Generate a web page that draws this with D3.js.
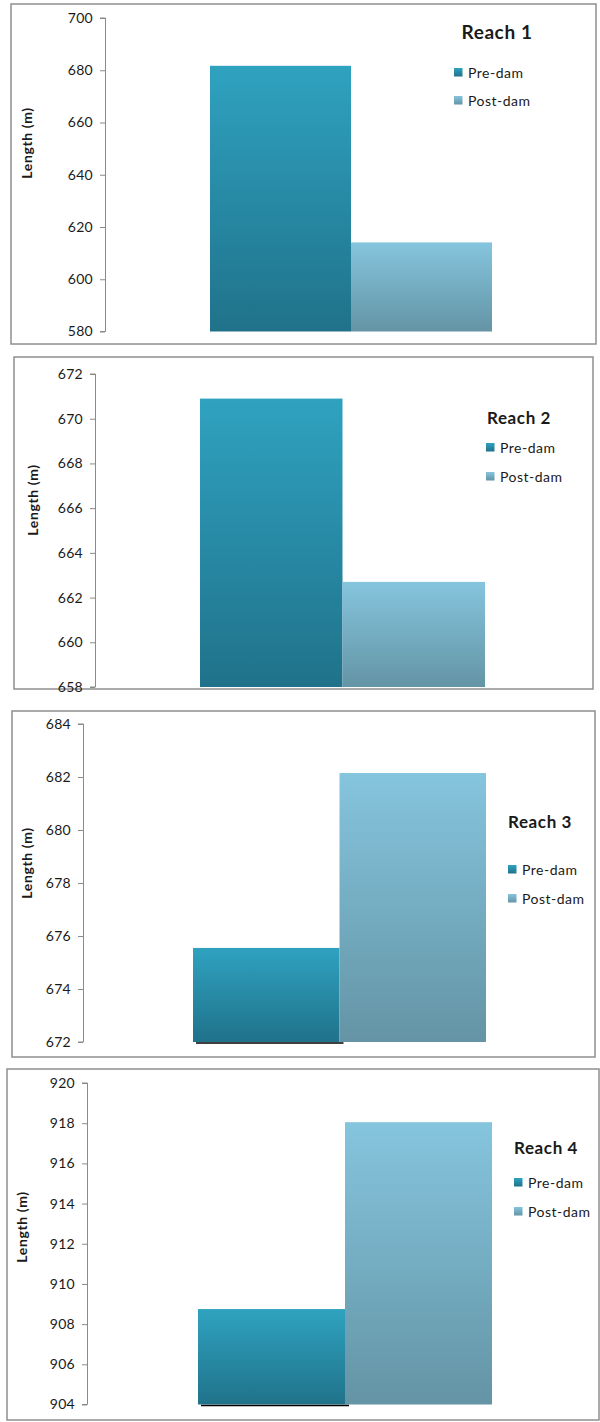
<!DOCTYPE html>
<html>
<head>
<meta charset="utf-8">
<script src="https://cdn.jsdelivr.net/npm/d3@7"></script>
<style>
  html, body { margin: 0; padding: 0; background: #fff; }
  svg { display: block; }
  text { font-family: Lato, "Open Sans", sans-serif; fill: #1a1a1a; }
</style>
</head>
<body>
<svg id="chart" width="600" height="1422"></svg>
<script>
// ---- data ----
const reaches = ["Reach 1", "Reach 2", "Reach 3", "Reach 4"];
const seriesNames = ["Pre-dam", "Post-dam"];
const preDam = [681.7, 670.9, 675.55, 908.75];
const postDam = [614.1, 662.7, 682.15, 918.05];
const yMin = [580, 658, 672, 904];
const yMax = [700, 672, 684, 920];
const yTickStep = [20, 2, 2, 2];
const yAxisTitle = "Length (m)";

// ---- layout (per panel) ----
const layout = [
  { box: [11, 4, 596, 344], axisX: 105, yTop: 18, yBot: 331.5, bars: [210, 492], titleX: 27, titleY: 143,
    head: [497, 39, 19], leg: [454, 68, 28] },
  { box: [14, 357, 593, 689], axisX: 95, yTop: 374, yBot: 687, bars: [200, 485], titleX: 33, titleY: 500,
    head: [519, 424, 17], leg: [486, 443, 29] },
  { box: [12, 711, 595, 1057], axisX: 83, yTop: 724, yBot: 1042, bars: [193, 486], titleX: 27, titleY: 863,
    head: [540, 828, 17], leg: [508, 865, 29] },
  { box: [7, 1069, 599, 1420], axisX: 87, yTop: 1083, yBot: 1404.5, bars: [198, 492], titleX: 22, titleY: 1227,
    head: [546, 1154, 17], leg: [514, 1178, 29] }
];

const svg = d3.select("#chart");
const defs = svg.append("defs");
function grad(id, top, bot) {
  const g = defs.append("linearGradient").attr("id", id).attr("x1", 0).attr("y1", 0).attr("x2", 0).attr("y2", 1);
  g.append("stop").attr("offset", "0%").attr("stop-color", top);
  g.append("stop").attr("offset", "100%").attr("stop-color", bot);
}
grad("gPre", "#2fa2c0", "#20728a");
grad("gPost", "#85c5de", "#6494a5");
const fills = { "Pre-dam": "url(#gPre)", "Post-dam": "url(#gPost)" };

reaches.forEach((reach, i) => {
  const L = layout[i];
  const g = svg.append("g");
  const [bx0, by0, bx1, by1] = L.box;
  g.append("rect").attr("x", bx0).attr("y", by0).attr("width", bx1 - bx0).attr("height", by1 - by0)
    .attr("fill", "#fff").attr("stroke", "#8f8f8f").attr("stroke-width", 1.5);

  const y = d3.scaleLinear().domain([yMin[i], yMax[i]]).range([L.yBot, L.yTop]);
  const x = d3.scaleBand().domain(seriesNames).range(L.bars).padding(0);
  const values = [preDam[i], postDam[i]];
  const ticks = d3.range(yMin[i], yMax[i] + yTickStep[i] / 2, yTickStep[i]);

  // axis
  const ax = g.append("g").attr("transform", `translate(${L.axisX},0)`)
    .call(d3.axisLeft(y).tickValues(ticks).tickSize(5).tickPadding(7).tickFormat(d3.format("d")));
  ax.select(".domain").attr("stroke", "#8a8a8a").attr("d", `M-5,${y(yMax[i])}H0.5V${y(yMin[i])}H-5`);
  ax.selectAll(".tick line").attr("stroke", "#8a8a8a");
  ax.selectAll(".tick text").attr("font-size", 14).attr("font-family", "Lato, sans-serif")
    .attr("letter-spacing", 0.3).attr("fill", "#1a1a1a");

  // bars
  g.selectAll("rect.bar").data(seriesNames).join("rect").attr("class", "bar")
    .attr("x", d => x(d)).attr("width", x.bandwidth())
    .attr("y", (d, k) => y(values[k])).attr("height", (d, k) => y(yMin[i]) - y(values[k]))
    .attr("fill", d => fills[d]);

  // dark baseline shadow under pre-dam bar when it is the shorter bar
  if (preDam[i] < postDam[i]) {
    g.append("line").attr("x1", x("Pre-dam") + 3).attr("x2", x("Pre-dam") + x.bandwidth() + 4)
      .attr("y1", y(yMin[i]) + 1).attr("y2", y(yMin[i]) + 1).attr("stroke", "#000").attr("stroke-width", 1.5);
  }

  // axis title
  g.append("text").attr("transform", `translate(${L.titleX},${L.titleY}) rotate(-90)`)
    .attr("text-anchor", "middle").attr("dy", "0.35em").attr("font-size", 14).attr("font-weight", 700)
    .attr("letter-spacing", 0.6).text(yAxisTitle);

  // chart title
  g.append("text").attr("x", L.head[0]).attr("y", L.head[1]).attr("text-anchor", "middle")
    .attr("font-size", L.head[2]).attr("font-weight", 700).attr("letter-spacing", 0.6).text(reach);

  // legend
  seriesNames.forEach((s, k) => {
    const ly = L.leg[1] + k * L.leg[2];
    g.append("rect").attr("x", L.leg[0]).attr("y", ly).attr("width", 8.5).attr("height", 8.5).attr("fill", fills[s]);
    g.append("text").attr("x", L.leg[0] + 14).attr("y", ly + 9.5).attr("font-size", 14)
      .attr("letter-spacing", 0.5).text(s);
  });
});
</script>
</body>
</html>
